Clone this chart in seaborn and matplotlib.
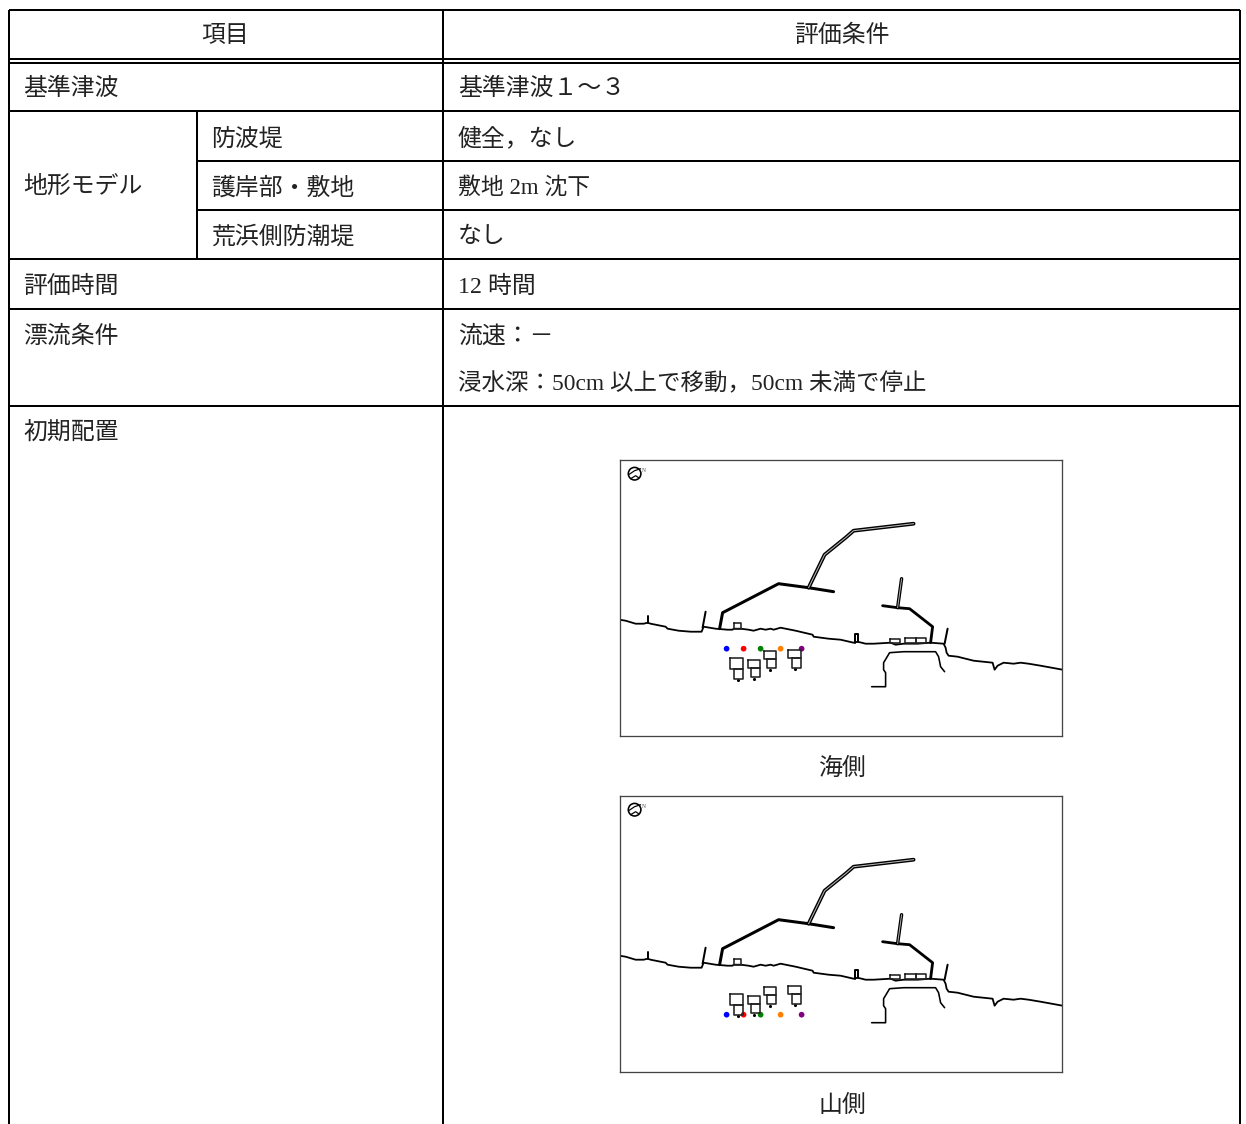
import matplotlib
matplotlib.use("Agg")
import matplotlib.pyplot as plt
import seaborn as sns

sns.set_theme(style="white")
plt.rcParams["font.family"] = ["Liberation Serif", "Noto Sans CJK JP", "DejaVu Sans"]

# ---- table text: (x px, y px, text, size) ----
left_cells = [
    (23, 89, "基準津波", 17.2), (23, 187, "地形モデル", 17.2), (211, 139, "防波堤", 17.2),
    (211, 188, "護岸部・敷地", 17.2), (211, 237, "荒浜側防潮堤", 17.2), (23, 287, "評価時間", 17.2),
    (23, 336, "漂流条件", 17.2), (23, 433, "初期配置", 17.2),
]
right_cells = [
    (458, 89, "基準津波１～３", 17.2), (458, 139, "健全，なし", 17.2), (458, 188, "敷地 2m 沈下", 16.5),
    (458, 237, "なし", 17.2), (458, 287, "12 時間", 17.2), (458, 336, "流速：－", 17.2),
    (458, 384, "浸水深：50cm 以上で移動，50cm 未満で停止", 16.9),
]
center_cells = [(225, 36, "項目"), (842, 36, "評価条件"), (842, 769, "海側"), (842, 1106, "山側")]

# ---- table rules ----
h_rules = [(9, 1240, 10, 2), (9, 1240, 59, 2), (9, 1240, 62.5, 2), (9, 1240, 111, 2),
           (197, 1240, 160.5, 2), (197, 1240, 210, 2), (9, 1240, 259, 2),
           (9, 1240, 309, 2), (9, 1240, 406, 2)]
v_rules = [(9, 10, 1124), (443, 10, 1124), (1240, 10, 1124), (197, 111, 259)]

# ---- map geometry (panel pixel units) ----
coast_x = [0, 6, 16, 24, 28, 31, 46, 48, 59, 71, 82, 84, 96, 108, 113, 114, 121, 129, 134, 141, 146,
           151, 154, 161, 176, 193, 194, 209, 221, 234, 238, 246, 254, 271, 276, 284, 289, 298, 311,
           324, 326, 327, 329, 338, 354, 373, 375, 378, 384, 394, 401, 409, 421, 443]
coast_y = [160, 161, 164, 164, 163, 164, 167, 169, 171, 172, 172, 167, 169, 170, 170, 169, 169, 170,
           171, 169, 170, 169, 170, 168, 171, 175, 177, 179, 180, 183, 182, 184, 184, 183, 185, 184,
           184, 184, 183, 184, 188, 193, 196, 197, 201, 203, 210, 206, 203, 204, 203, 204, 206, 210]
stub1_x, stub1_y = [28, 28], [156, 163]
stub2_x, stub2_y = [86, 83], [152, 168]
stub3_x, stub3_y = [235, 235, 238, 238], [183, 174, 174, 182]
stub4_x, stub4_y = [325, 328], [184, 169]
south_x, south_y = [100, 103, 159, 189, 214], [169, 153, 124, 128, 132]
north_x, north_y = [189, 205, 226, 234, 294], [128, 95, 78, 71, 64]
east_x, east_y = [263, 278, 290, 313, 311], [146, 148, 149, 167, 183]
east_arm_x, east_arm_y = [278, 282], [148, 119]
channel_x = [252, 266, 266, 264, 264, 270, 284, 316, 319, 321, 325]
channel_y = [227, 227, 213, 210, 203, 193, 192, 192, 197, 207, 212]
boxes = [  # x0, y0, x1, y1
    (114, 163, 121, 169), (270, 179, 280, 183), (285, 178, 296, 183), (296, 178, 306, 183),
    (110, 198, 123, 209), (114, 209, 123, 219), (128, 200, 140, 208), (131, 208, 140, 217),
    (144, 191, 156, 199), (147, 199, 156, 208), (168, 190, 181, 198), (172, 198, 181, 208),
]
tank_dot_x, tank_dot_y = [118, 134, 150, 175], [220, 219, 210, 209]
dot_x = [107, 124, 141, 161, 182]
dot_colors = ["#0000ff", "#ff0000", "#008000", "#ff8000", "#800080"]
sea_dot_y = [189, 189, 189, 189, 189]
mountain_dot_y = [219, 219, 219, 219, 219]
panels = [("海側", 459.7, sea_dot_y), ("山側", 795.7, mountain_dot_y)]

W, H = 1246, 1124
PX = 0.72
fig = plt.figure(figsize=(W / 100, H / 100), dpi=100, facecolor="white")
base = fig.add_axes([0, 0, 1, 1])
base.set_xlim(0, W)
base.set_ylim(H, 0)
base.axis("off")
for x0, x1, y, lw in h_rules:
    base.hlines(y, x0, x1, color="black", linewidth=lw * PX)
for x, y0, y1 in v_rules:
    base.vlines(x, y0, y1, color="black", linewidth=2 * PX)

for x, y, s, size in left_cells + right_cells:
    base.text(x, y, s, fontsize=size, ha="left", va="center", color="#222222")
for x, y, s in center_cells:
    base.text(x, y, s, fontsize=17.2, ha="center", va="center", color="#222222")


def path(ax, xs, ys, lw=1.4, color="black"):
    sns.lineplot(x=xs, y=ys, sort=False, estimator=None, ax=ax, color=color,
                 linewidth=lw * PX, legend=False)


for _, top, dots_y in panels:
    ax = fig.add_axes([619.6 / W, 1 - (top + 276) / H, 442 / W, 276 / H])
    for spine in ax.spines.values():
        spine.set_visible(True)
        spine.set_color("#444444")
        spine.set_linewidth(1.3 * PX)
    path(ax, coast_x, coast_y, 1.8)
    for xs, ys in [(stub1_x, stub1_y), (stub2_x, stub2_y), (stub3_x, stub3_y), (stub4_x, stub4_y)]:
        path(ax, xs, ys, 2.0)
    path(ax, channel_x, channel_y, 1.6)
    path(ax, south_x, south_y, 3.0)
    path(ax, east_x, east_y, 2.8)
    path(ax, north_x, north_y, 3.8)
    path(ax, north_x, north_y, 1.0, "#bbbbbb")
    path(ax, east_arm_x, east_arm_y, 3.4)
    path(ax, east_arm_x, east_arm_y, 0.9, "#bbbbbb")
    for x0, y0, x1, y1 in boxes:
        path(ax, [x0, x1, x1, x0, x0], [y0, y0, y1, y1, y0], 1.6, "#222222")
    sns.scatterplot(x=tank_dot_x, y=tank_dot_y, ax=ax, color="black", s=5, linewidth=0, legend=False)
    sns.scatterplot(x=dot_x, y=dots_y, hue=dot_x, palette=dict(zip(dot_x, dot_colors)), ax=ax,
                    s=17, linewidth=0, legend=False)
    ax.add_patch(plt.Circle((15, 14), 6.3, fill=False, edgecolor="black", linewidth=1.6 * PX))
    path(ax, [9, 15, 21], [15, 11, 9], 1.2)
    path(ax, [11, 16, 19], [19, 16, 18], 1.2)
    ax.text(24, 11, "N", fontsize=4, ha="center", va="center", color="#444444")
    ax.set_xlim(0, 442)
    ax.set_ylim(276, 0)
    ax.set_xticks([])
    ax.set_yticks([])
    ax.set_xlabel("")
    ax.set_ylabel("")

fig.savefig("out.png", dpi=100, facecolor="white")
